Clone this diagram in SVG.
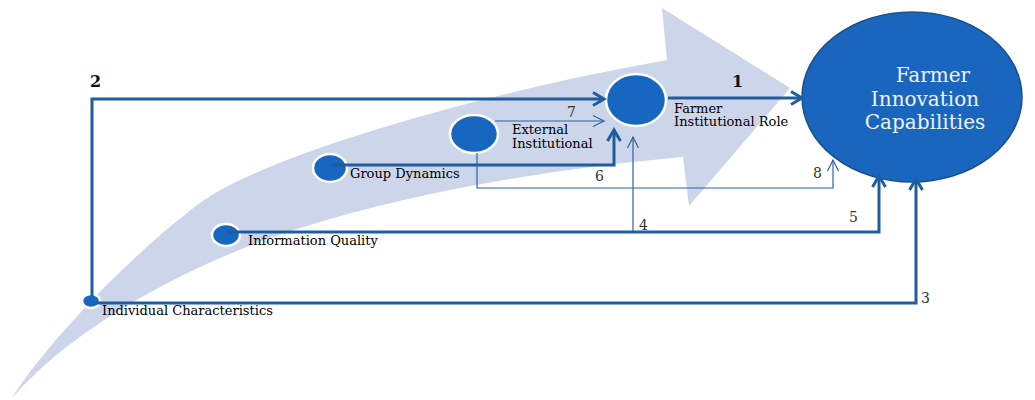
<svg xmlns="http://www.w3.org/2000/svg" width="1035" height="400" viewBox="0 0 1035 400">
  <defs>
    <style>
      .lbl { font-family: "DejaVu Serif", "Liberation Serif", serif; font-size: 13px; fill: #000000; }
      .num { font-family: "DejaVu Serif", "Liberation Serif", serif; font-size: 14px; fill: #333333; }
      .numb { font-family: "DejaVu Serif", "Liberation Serif", serif; font-size: 16px; font-weight: bold; fill: #111111; }
      .big { font-family: "DejaVu Serif", "Liberation Serif", serif; font-size: 20px; fill: #eef3fb; text-anchor: middle; }
      .node { fill: #1767c1; stroke: #ffffff; stroke-width: 2.5; }
      .thick { fill: none; stroke: #1f5d9f; stroke-width: 3; }
      .thin { fill: none; stroke: #2a65a6; stroke-width: 1.2; }
    </style>
    <marker id="ah" markerUnits="userSpaceOnUse" viewBox="0 0 16 16" markerWidth="16" markerHeight="16" refX="13" refY="8" orient="auto" overflow="visible">
      <path d="M2,1.5 L13,8 L2,14.5" fill="none" stroke="#1f5d9f" stroke-width="3"/>
    </marker>
    <marker id="at" markerUnits="userSpaceOnUse" viewBox="0 0 14 14" markerWidth="14" markerHeight="14" refX="12" refY="7" orient="auto" overflow="visible">
      <path d="M1,1.5 L12,7 L1,12.5" fill="none" stroke="#2a65a6" stroke-width="1.2"/>
    </marker>
  </defs>
  <rect width="1035" height="400" fill="#ffffff"/>

  <!-- background curved arrow -->
  <path id="band" d="M12,398 C45,345 130,255 200,203 C260,158 470,95 667,60 L662,8 L790,88 L689,206 L683,157 C560,168 420,190 300,228 C200,260 80,320 12,398 Z" fill="#ccd5e9"/>

  <!-- target node -->
  <g id="farmer-innovation-capabilities">
    <ellipse cx="912" cy="97" rx="110" ry="85" fill="#1a66bf" stroke="#1a4f8b" stroke-width="1.5"/>
    <text class="big" x="933" y="82">Farmer</text>
    <text class="big" x="925" y="106">Innovation</text>
    <text class="big" x="925" y="129">Capabilities</text>
  </g>

  <!-- source nodes -->
  <g id="farmer-institutional-role">
    <ellipse class="node" cx="636" cy="100" rx="30" ry="26"/>
    <text class="lbl" x="674" y="113">Farmer</text>
    <text class="lbl" x="674" y="126">Institutional Role</text>
  </g>
  <g id="external-institutional">
    <ellipse class="node" cx="474" cy="134" rx="24" ry="19"/>
    <text class="lbl" x="512" y="134">External</text>
    <text class="lbl" x="512" y="148">Institutional</text>
  </g>
  <g id="group-dynamics">
    <ellipse class="node" cx="330" cy="168" rx="17" ry="14"/>
    <text class="lbl" x="350" y="178">Group Dynamics</text>
  </g>
  <g id="information-quality">
    <ellipse class="node" cx="226" cy="235" rx="14" ry="11"/>
    <text class="lbl" x="248" y="245">Information Quality</text>
  </g>
  <g id="individual-characteristics">
    <ellipse class="node" cx="91" cy="301" rx="9" ry="7"/>
    <text class="lbl" x="102" y="315">Individual Characteristics</text>
  </g>

  <!-- connectors -->
  <g id="connectors">
    <path class="thick" d="M92,296 L92,99 L604,99" marker-end="url(#ah)"/>
    <path class="thick" d="M668,98 L802,98" marker-end="url(#ah)"/>
    <path class="thick" d="M96,303 L916,303 L916,179" marker-end="url(#ah)"/>
    <path class="thick" d="M227,232 L879,232 L879,176" marker-end="url(#ah)"/>
    <path class="thin" d="M633,232 L633,137" marker-end="url(#at)"/>
    <path class="thick" d="M332,165 L614,165 L614,130" marker-end="url(#ah)"/>
    <path class="thin" d="M495,121 L604,121" marker-end="url(#at)"/>
    <path class="thin" d="M477,153 L477,188 L833,188 L833,160" marker-end="url(#at)"/>

    <text class="numb" x="732" y="87">1</text>
    <text class="numb" x="90" y="87">2</text>
    <text class="num" x="921" y="303">3</text>
    <text class="num" x="639" y="230">4</text>
    <text class="num" x="849" y="222">5</text>
    <text class="num" x="595" y="181">6</text>
    <text class="num" x="567" y="117">7</text>
    <text class="num" x="813" y="178">8</text>
  </g>
</svg>
